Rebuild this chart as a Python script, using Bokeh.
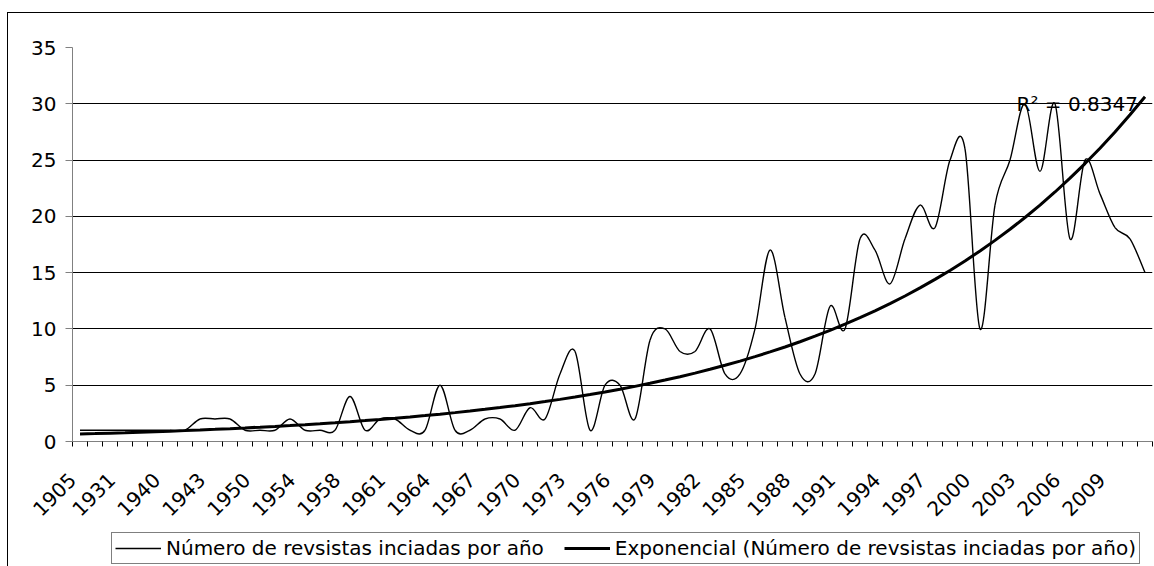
import numpy as np
from bokeh.plotting import figure
from bokeh.layouts import column
from bokeh.models import Range1d, FixedTicker, Legend, LegendItem, Label
from bokeh.embed import file_html
from bokeh.resources import INLINE

# ---- data ----
tick_labels = ["1905", "1931", "1940", "1943", "1950", "1954", "1958", "1961",
               "1964", "1967", "1970", "1973", "1976", "1979", "1982", "1985",
               "1988", "1991", "1994", "1997", "2000", "2003", "2006", "2009"]
counts = [1, 1, 1, 1, 1, 1, 1, 1, 2, 2, 2, 1, 1, 1, 2, 1, 1, 1, 4, 1,
          2, 2, 1, 1, 5, 1, 1, 2, 2, 1, 3, 2, 6, 8, 1, 5, 5, 2, 9, 10,
          8, 8, 10, 6, 6, 10, 17, 11, 6, 6, 12, 10, 18, 17, 14, 18, 21, 19, 25, 26,
          10, 21, 25, 30, 24, 30, 18, 25, 22, 19, 18, 15]
r2_text = "R\u00b2 = 0.8347"
series_name = "Número de revsistas inciadas por año"
trend_name = "Exponencial (Número de revsistas inciadas por año)"

n = len(counts)
assert n == 72

FONT = "DejaVu Sans"
W = 40  # x units per category (category i spans [W*i, W*(i+1)])

xs = np.arange(n) * W + W / 2.0
ys = np.array(counts, dtype=float)

# Excel-like smoothed line: cubic Bezier segments (Catmull-Rom control points)
xp = np.concatenate([[xs[0]], xs, [xs[-1]]])
yp = np.concatenate([[ys[0]], ys, [ys[-1]]])
x0 = xs[:-1]; y0 = ys[:-1]
x1 = xs[1:];  y1 = ys[1:]
cx0 = x0 + (xp[2:-1] - xp[0:-3]) / 6.0
cy0 = y0 + (yp[2:-1] - yp[0:-3]) / 6.0
cx1 = x1 - (xp[3:] - xp[1:-2]) / 6.0
cy1 = y1 - (yp[3:] - yp[1:-2]) / 6.0

# exponential trend line (least squares on ln y, x = 1..n as Excel does)
xi = np.arange(1, n + 1)
b, lna = np.polyfit(xi, np.log(ys), 1)
trend = np.exp(lna + b * xi)

# ---------------- main chart ----------------
p = figure(width=1146, height=518, x_range=Range1d(0, W * n), y_range=Range1d(0, 35),
           output_backend="svg", toolbar_location=None,
           min_border_left=64, min_border_right=2, min_border_top=34, min_border_bottom=90)
p.outline_line_color = None
p.background_fill_color = "white"
p.border_fill_color = "white"

p.xgrid.visible = False
p.ygrid.ticker = FixedTicker(ticks=[5, 10, 15, 20, 25, 30, 35])
p.ygrid.grid_line_color = "black"
p.ygrid.grid_line_width = 1

ya = p.yaxis[0]
ya.ticker = FixedTicker(ticks=[0, 5, 10, 15, 20, 25, 30, 35])
ya.axis_line_color = "#808080"
ya.major_tick_line_color = "#808080"
ya.major_tick_out = 7
ya.major_tick_in = 0
ya.minor_tick_out = 0
ya.minor_tick_in = 0
ya.major_label_standoff = 9
ya.major_label_text_font = FONT
ya.major_label_text_font_size = "20px"
ya.major_label_text_color = "black"

# labels every third category (Excel puts the rotated label's end a bit left of the centre)
xa = p.xaxis[0]
label_pos = [max(0, 3 * W * j + W // 2 - 35) for j in range(len(tick_labels))]
xa.ticker = FixedTicker(ticks=label_pos, minor_ticks=list(range(0, W * n + 1, W)))
xa.major_label_overrides = {pos: lab for pos, lab in zip(label_pos, tick_labels)}
xa.axis_line_color = "#808080"
xa.major_tick_out = 0
xa.major_tick_in = 0
xa.minor_tick_out = 5
xa.minor_tick_in = 0
xa.minor_tick_line_color = "black"
xa.major_label_orientation = np.pi / 4
xa.major_label_standoff = 30
xa.major_label_text_font = FONT
xa.major_label_text_font_size = "20px"
xa.major_label_text_color = "black"

p.bezier(x0=x0, y0=y0, x1=x1, y1=y1, cx0=cx0, cy0=cy0, cx1=cx1, cy1=cy1,
         line_color="black", line_width=1.4)
p.line(xs, trend, line_color="black", line_width=3)

p.add_layout(Label(x=(1016 - 72) / 1080 * W * n, y=30, text=r2_text, text_font=FONT,
                   text_font_size="20px", text_color="black", text_baseline="alphabetic"))

# ---------------- legend strip (same series, drawn outside its visible range) ----------------
lg = figure(width=1146, height=35, x_range=Range1d(0, W * n), y_range=Range1d(-100, -99),
            output_backend="svg", toolbar_location=None,
            x_axis_type=None, y_axis_type=None, min_border=0)
lg.outline_line_color = None
lg.xgrid.visible = False
lg.ygrid.visible = False
l1 = lg.bezier(x0=x0, y0=y0, x1=x1, y1=y1, cx0=cx0, cy0=cy0, cx1=cx1, cy1=cy1,
               line_color="black", line_width=1.4)
l2 = lg.line(xs, trend, line_color="black", line_width=3)
legend = Legend(items=[LegendItem(label=series_name, renderers=[l1]),
                       LegendItem(label=trend_name, renderers=[l2])],
                orientation="horizontal", location=(39, 2),
                label_text_font=FONT, label_text_font_size="20px", label_text_color="black",
                glyph_width=46, glyph_height=20, label_standoff=5, spacing=20,
                padding=3, margin=0, border_line_color="black", border_line_width=1,
                background_fill_color="white", background_fill_alpha=1.0)
lg.add_layout(legend, "center")

layout = column(p, lg, spacing=0,
                styles={"border-left": "1px solid black", "border-top": "1px solid black",
                        "margin-left": "7px", "margin-top": "12px"})

open("out.html", "w").write(file_html(layout, INLINE))
